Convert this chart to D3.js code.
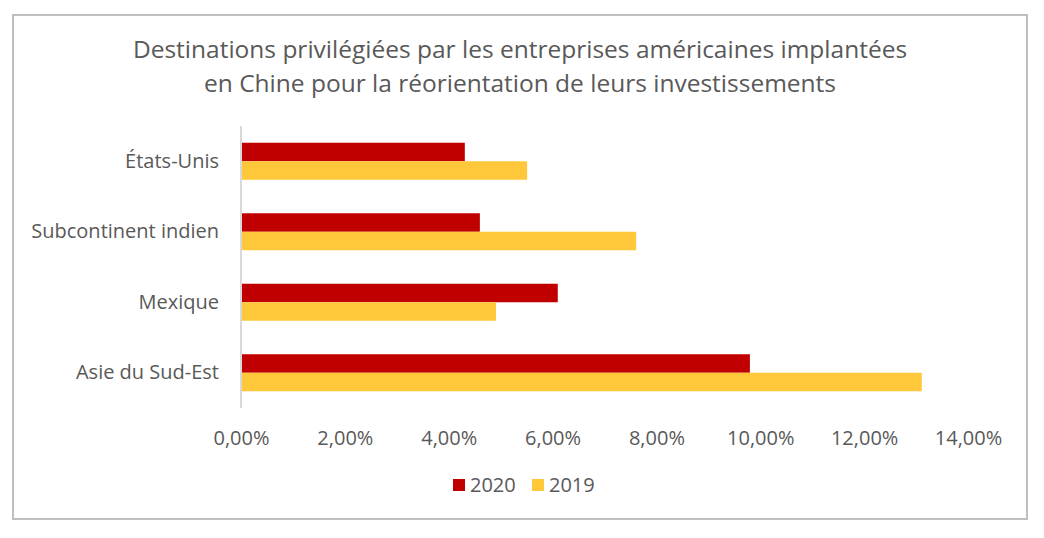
<!DOCTYPE html>
<html><head><meta charset="utf-8">
<script src="https://cdn.jsdelivr.net/npm/d3@7/dist/d3.min.js"></script>
<style>body{margin:0;background:#fff;} svg{display:block;font-family:"Open Sans",sans-serif;}</style>
</head><body><svg id="c" width="1044" height="538"></svg>
<script>
const categories = ["États-Unis", "Subcontinent indien", "Mexique", "Asie du Sud-Est"];
const seriesNames = ["2020", "2019"];
const values2020 = [0.0431, 0.0460, 0.0610, 0.0980];
const values2019 = [0.0551, 0.0761, 0.0491, 0.1311];
const tickValues = [0, 0.02, 0.04, 0.06, 0.08, 0.10, 0.12, 0.14];
const colors = ["#c00000", "#ffc73a"];

const svg = d3.select("#c");
svg.append("rect").attr("x",13).attr("y",15).attr("width",1014).attr("height",504)
  .attr("fill","#fff").attr("stroke","#bfbfbf").attr("stroke-width",2);

const title = svg.append("text").attr("text-anchor","middle").attr("fill","#595959")
  .attr("font-size",24.5);
title.append("tspan").attr("x",520).attr("y",58).text("Destinations privilégiées par les entreprises américaines implantées");
title.append("tspan").attr("x",520).attr("y",92).text("en Chine pour la réorientation de leurs investissements");

const x = d3.scaleLinear().domain([0,0.14]).range([241,968]);
const y = d3.scaleBand().domain(categories).range([126,408]).paddingInner(0.475).paddingOuter(0.2375);
const ys = d3.scaleBand().domain(seriesNames).range([0,y.bandwidth()]);

const rows = categories.map((c,i)=>({cat:c, vals:[values2020[i], values2019[i]]}));
const g = svg.append("g");
rows.forEach(r=>{
  seriesNames.forEach((s,j)=>{
    g.append("rect").attr("x",x(0)).attr("y",y(r.cat)+ys(s))
      .attr("width",x(r.vals[j])-x(0)).attr("height",ys.bandwidth()).attr("fill",colors[j]);
  });
});

// y axis
const yAxis = svg.append("g").attr("transform",`translate(${x(0)},0)`)
  .call(d3.axisLeft(y).tickSize(0).tickPadding(22));
yAxis.select(".domain").attr("stroke","#d9d9d9").attr("stroke-width",2).attr("d",`M0,126V408`);
yAxis.selectAll("text").attr("font-size",20).attr("fill","#595959").attr("font-family","Open Sans");

const fr = d3.formatLocale({decimal:",", thousands:" ", grouping:[3], currency:["","€"]});
const xAxis = svg.append("g").attr("transform","translate(0,420)")
  .call(d3.axisBottom(x).tickValues(tickValues).tickFormat(fr.format(".2%")).tickSize(0).tickPadding(11));
xAxis.select(".domain").remove();
xAxis.selectAll("text").attr("font-size",20).attr("fill","#595959").attr("font-family","Open Sans");

// legend
const leg = svg.append("g");
const legX = [453, 532];
seriesNames.forEach((s,j)=>{
  leg.append("rect").attr("x",legX[j]).attr("y",479).attr("width",12).attr("height",12).attr("fill",colors[j]);
  leg.append("text").attr("x",legX[j]+17).attr("y",492).attr("font-size",20).attr("fill","#595959").text(s);
});
</script></body></html>
